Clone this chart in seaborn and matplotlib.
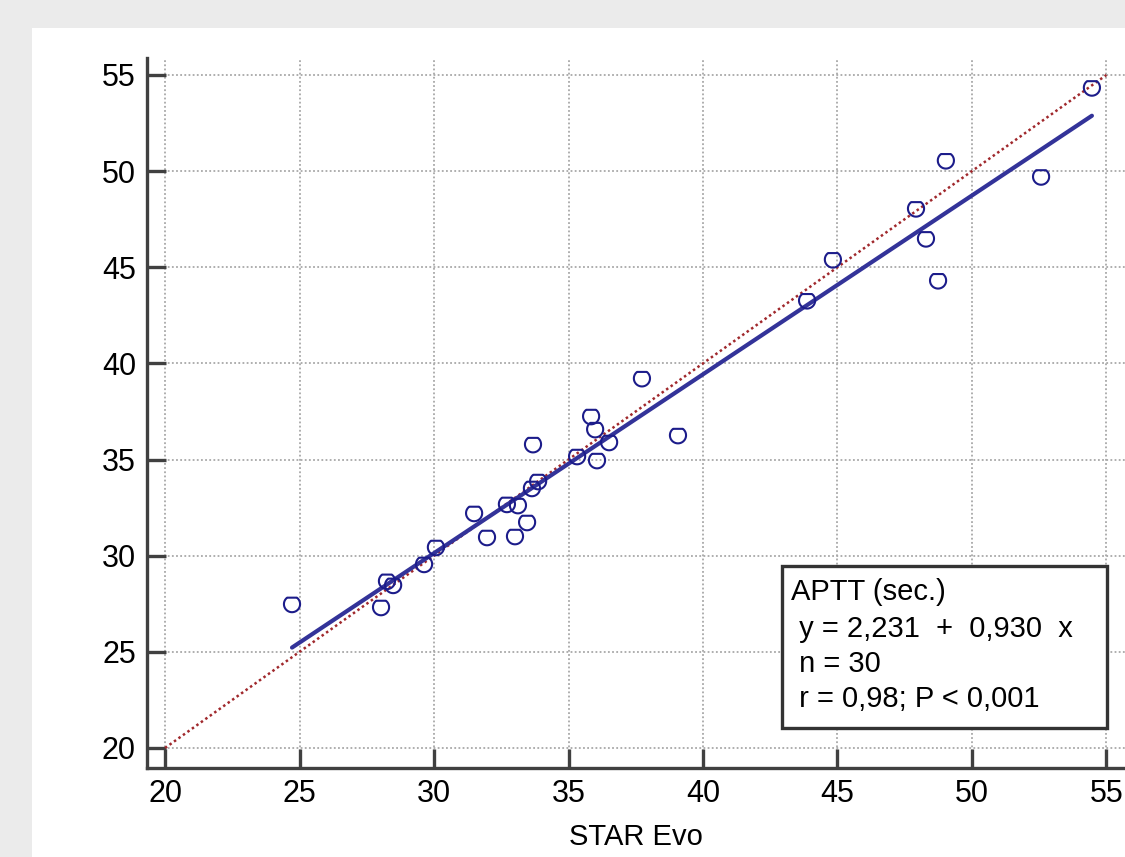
import numpy as np
import pandas as pd
import matplotlib
matplotlib.use('Agg')
import matplotlib.pyplot as plt
from matplotlib.path import Path
from matplotlib.patches import Rectangle
import seaborn as sns

# APTT values (sec.)
star_evo = [24.72, 28.03, 28.25, 28.48, 29.63, 30.07, 31.49, 31.97, 32.71, 33.01,
            33.12, 33.46, 33.64, 33.87, 33.68, 35.32, 35.84, 35.99, 36.06, 36.51,
            37.73, 39.07, 43.87, 44.83, 47.92, 48.29, 48.74, 49.03, 52.57, 54.46]
reference = [27.48, 27.32, 28.68, 28.47, 29.56, 30.44, 32.21, 30.96, 32.68, 31.01,
             32.62, 31.74, 33.51, 33.87, 35.79, 35.17, 37.25, 36.57, 34.96, 35.90,
             39.22, 36.26, 43.27, 45.40, 48.05, 46.49, 44.31, 50.55, 49.71, 54.34]

intercept = 2.231
slope = 0.930
ticks = [20, 25, 30, 35, 40, 45, 50, 55]
box_lines = ['APTT (sec.)', ' y = 2,231  +  0,930  x', ' n = 30', ' r = 0,98; P < 0,001']

df = pd.DataFrame({'STAR Evo': star_evo, 'Reference': reference})

sns.set_theme(style='white')
plt.rcParams['font.family'] = ['Liberation Sans', 'DejaVu Sans']
plt.rcParams['text.color'] = 'black'

fig = plt.figure(figsize=(11.25, 8.57), dpi=100, facecolor='#ebebeb')
bg = Rectangle((32 / 1125, 0), 1 - 32 / 1125, (857 - 28) / 857,
               transform=fig.transFigure, facecolor='white', edgecolor='none', zorder=-10)
fig.add_artist(bg)
ax = fig.add_axes([0.1307, 0.1039, 0.8693, 0.8284])
ax.set_zorder(1)
ax.set_facecolor('none')

# marker: circle with a flattened top
a0 = np.arcsin(0.8)
ang = np.linspace(a0, -np.pi - a0, 40)
verts = [(np.cos(a), np.sin(a)) for a in ang]
verts.append(verts[0])
cup = Path(verts, closed=True)

# identity line
ax.plot(ticks[::len(ticks) - 1], ticks[::len(ticks) - 1], color='#a0282c',
        linestyle=(0, (1, 1.2)), linewidth=1.8, zorder=2)

# regression line from the reported equation
fit_x = np.array([min(star_evo), max(star_evo)])
sns.lineplot(x=fit_x, y=intercept + slope * fit_x, color='#333399', linewidth=3,
             ax=ax, zorder=3)

sns.scatterplot(data=df, x='STAR Evo', y='Reference', marker=cup, s=135,
                facecolor='none', edgecolor='#1c1c8a', linewidth=1.5, ax=ax, zorder=4)

ax.set_xlim(19.33, 55.69)
ax.set_ylim(18.96, 55.88)
ax.set_xticks(ticks)
ax.set_yticks(ticks)
ax.grid(True, color='#a8a8a8', linestyle=(0, (1, 1.3)), linewidth=1.3)

for side in ['top', 'right']:
    ax.spines[side].set_visible(False)
for side in ['left', 'bottom']:
    ax.spines[side].set_color('#404040')
    ax.spines[side].set_linewidth(2.4)

ax.tick_params(axis='both', direction='in', length=14, width=2.4, color='#404040',
               labelsize=22, labelcolor='black', left=True, bottom=True)
ax.tick_params(axis='y', pad=8)
ax.tick_params(axis='x', pad=8)

ax.set_xlabel('STAR Evo', fontsize=21, labelpad=10, color='black')
ax.set_ylabel('')

ax.add_patch(Rectangle((0.649, 0.0563), 0.3326, 0.2282, transform=ax.transAxes,
                       facecolor='white', edgecolor='#333333', linewidth=2.4, zorder=5))
baselines = [600, 637, 672, 707]
for line, yb in zip(box_lines, baselines):
    ax.text((791 - 147) / 978, (768 - yb) / 710, line, transform=ax.transAxes,
            fontsize=21, va='baseline', ha='left', color='black', zorder=6)

fig.savefig('out.png', dpi=100, facecolor=fig.get_facecolor())
